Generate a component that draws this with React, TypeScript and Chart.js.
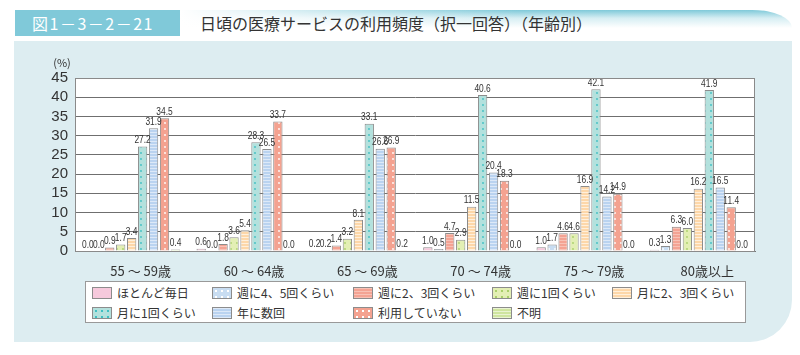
import React, { useEffect, useRef } from "react";
import { Chart, registerables } from "chart.js";

Chart.register(...registerables);

const categories = ["55 〜 59歳", "60 〜 64歳", "65 〜 69歳", "70 〜 74歳", "75 〜 79歳", "80歳以上"];
const seriesNames = [
  "ほとんど毎日",
  "週に4、5回くらい",
  "週に2、3回くらい",
  "週に1回くらい",
  "月に2、3回くらい",
  "月に1回くらい",
  "年に数回",
  "利用していない",
  "不明",
];
const almostDaily = [0.0, 0.6, 0.2, 1.0, 1.0, 0.3];
const week45 = [0.0, 0.0, 0.2, 0.5, 1.7, 1.3];
const week23 = [0.9, 1.8, 1.4, 4.7, 4.6, 6.3];
const week1 = [1.7, 3.6, 3.2, 2.9, 4.6, 6.0];
const month23 = [3.4, 5.4, 8.1, 11.5, 16.9, 16.2];
const month1 = [27.2, 28.3, 33.1, 40.6, 42.1, 41.9];
const fewPerYear = [31.9, 26.5, 26.6, 20.4, 14.2, 16.5];
const notUsing = [34.5, 33.7, 26.9, 18.3, 14.9, 11.4];
const unknown = [0.4, 0.0, 0.2, 0.0, 0.0, 0.0];
const yTicks = [0, 5, 10, 15, 20, 25, 30, 35, 40, 45];

const seriesValues = [almostDaily, week45, week23, week1, month23, month1, fewPerYear, notUsing, unknown];

type Style = { bg: string; fg: string; kind: "plain" | "dots" | "stripes" };
const styles: Style[] = [
  { bg: "#f6c9dc", fg: "#f6c9dc", kind: "plain" },
  { bg: "#c8ddf2", fg: "#ffffff", kind: "dots" },
  { bg: "#f4a393", fg: "#f8c2b6", kind: "stripes" },
  { bg: "#e3efb4", fg: "#a9cf6a", kind: "dots" },
  { bg: "#fdd7a9", fg: "#fff0dc", kind: "stripes" },
  { bg: "#b3e1dd", fg: "#3fbfc2", kind: "dots" },
  { bg: "#bad3f0", fg: "#dde9f8", kind: "stripes" },
  { bg: "#f4a290", fg: "#ffffff", kind: "dots" },
  { bg: "#cfe59f", fg: "#eaf4d2", kind: "stripes" },
];

function makePattern(s: Style): CanvasPattern | string {
  if (s.kind === "plain") return s.bg;
  const c = document.createElement("canvas");
  const ctx = c.getContext("2d")!;
  if (s.kind === "dots") {
    c.width = 6;
    c.height = 6;
    ctx.fillStyle = s.bg;
    ctx.fillRect(0, 0, 6, 6);
    ctx.fillStyle = s.fg;
    ctx.beginPath();
    ctx.arc(3, 3, 0.9, 0, Math.PI * 2);
    ctx.fill();
  } else {
    c.width = 4;
    c.height = 3;
    ctx.fillStyle = s.bg;
    ctx.fillRect(0, 0, 4, 3);
    ctx.fillStyle = s.fg;
    ctx.fillRect(0, 0, 4, 1);
  }
  return ctx.createPattern(c, "repeat")!;
}

function swatchCss(s: Style): React.CSSProperties {
  if (s.kind === "plain") return { background: s.bg };
  if (s.kind === "dots")
    return {
      backgroundColor: s.bg,
      backgroundImage: `radial-gradient(circle, ${s.fg} 0.9px, transparent 1.2px)`,
      backgroundSize: "6px 6px",
    };
  return {
    backgroundColor: s.bg,
    backgroundImage: `linear-gradient(to bottom, ${s.fg} 0, ${s.fg} 1px, transparent 1px)`,
    backgroundSize: "4px 3px",
  };
}

const CJK = '"Noto Sans CJK JP", "Noto Sans", sans-serif';

export default function App() {
  const ref = useRef<HTMLCanvasElement>(null);

  useEffect(() => {
    if (!ref.current) return;
    const plotBg = {
      id: "plotBg",
      beforeDraw(chart: any) {
        const { ctx, chartArea: a } = chart;
        ctx.save();
        ctx.fillStyle = "#ffffff";
        ctx.fillRect(a.left, a.top, a.right - a.left, a.bottom - a.top);
        ctx.restore();
      },
      afterDraw(chart: any) {
        const { ctx, chartArea: a } = chart;
        ctx.save();
        ctx.strokeStyle = "#8a8a8a";
        ctx.lineWidth = 1;
        ctx.strokeRect(a.left + 0.5, a.top + 0.5, a.right - a.left - 1, a.bottom - a.top);
        ctx.fillStyle = "#333";
        ctx.font = "11px " + CJK;
        ctx.textAlign = "center";
        ctx.textBaseline = "middle";
        ctx.fillText("(%)", 62, 63);
        ctx.restore();
      },
    };
    const labels = {
      id: "valueLabels",
      afterDatasetsDraw(chart: any) {
        const { ctx } = chart;
        chart.data.datasets.forEach((ds: any, i: number) => {
          const meta = chart.getDatasetMeta(i);
          meta.data.forEach((el: any, j: number) => {
            const v = ds.data[j] as number;
            ctx.save();
            ctx.translate(el.x, el.y - 1);
            ctx.scale(0.8, 1);
            ctx.fillStyle = "#333";
            ctx.font = '10.5px "Liberation Sans", Arial, sans-serif';
            ctx.textAlign = "center";
            ctx.textBaseline = "bottom";
            ctx.fillText(v.toFixed(1), 0, 0);
            ctx.restore();
          });
        });
      },
    };
    const chart = new Chart(ref.current, {
      type: "bar",
      data: {
        labels: categories,
        datasets: seriesNames.map((name, i) => ({
          label: name,
          data: seriesValues[i],
          backgroundColor: makePattern(styles[i]) as any,
          borderColor: "#8c8c8c",
          borderWidth: 1,
          categoryPercentage: 0.87,
          barPercentage: 0.85,
        })),
      },
      options: {
        responsive: false,
        animation: false,
        events: [],
        layout: { padding: { left: 0, right: 45, top: 78, bottom: 74 } },
        plugins: { legend: { display: false }, tooltip: { enabled: false }, title: { display: false } },
        scales: {
          x: {
            grid: { display: false },
            border: { display: true, color: "#777" },
            ticks: {
              color: "#333",
              font: { family: CJK, size: 13 },
              labelOffset: 9,
              padding: 4,
              maxRotation: 0,
            },
            afterFit(scale: any) {
              scale.height = 30;
            },
          },
          y: {
            min: yTicks[0],
            max: yTicks[yTicks.length - 1],
            grid: { color: "#6f6f6f", lineWidth: 1, drawTicks: false },
            border: { display: true, color: "#777" },
            ticks: {
              stepSize: yTicks[1] - yTicks[0],
              autoSkip: false,
              color: "#333",
              font: { family: '"Liberation Sans", Arial, sans-serif', size: 15 },
              padding: 7,
            },
            afterFit(scale: any) {
              scale.width = 75;
            },
          },
        },
      },
      plugins: [plotBg, labels],
    });
    return () => chart.destroy();
  }, []);

  const legendCols = [92, 212, 353, 492, 612];

  return (
    <div style={{ position: "fixed", left: 0, top: 0, width: 800, height: 355, background: "#fff", overflow: "hidden", fontFamily: CJK }}>
      <div
        style={{
          position: "absolute",
          left: 180,
          top: 10,
          width: 612,
          height: 18,
          borderTopRightRadius: "40px 18px",
          background:
            "linear-gradient(to right, #ffffff 0%, rgba(255,255,255,0) 55%), linear-gradient(to bottom, #7fc9d9 0%, #d6eef3 45%, #ffffff 100%)",
        }}
      />
      <div
        style={{
          position: "absolute",
          left: 15,
          top: 10,
          width: 165,
          height: 26,
          background: "#80c9d9",
          color: "#fff",
          fontSize: 16,
          lineHeight: "26px",
          paddingLeft: 17,
          boxSizing: "border-box",
          letterSpacing: 1.5,
          whiteSpace: "nowrap",
        }}
      >
        図1－3－2－21
      </div>
      <div
        style={{
          position: "absolute",
          left: 200,
          top: 10,
          height: 26,
          lineHeight: "26px",
          fontSize: 16,
          color: "#333",
          whiteSpace: "nowrap",
        }}
      >
        日頃の医療サービスの利用頻度（択一回答）（年齢別）
      </div>
      <div
        style={{
          position: "absolute",
          left: 14,
          top: 41,
          width: 778,
          height: 301,
          background: "#ddedf1",
          borderBottomRightRadius: 42,
        }}
      />
      <canvas ref={ref} width={800} height={355} style={{ position: "absolute", left: 0, top: 0, width: 800, height: 355 }} />
      <div
        style={{
          position: "absolute",
          left: 85,
          top: 281,
          width: 661,
          height: 42,
          background: "#fff",
          border: "1px solid #999",
          boxSizing: "border-box",
        }}
      />
      {seriesNames.map((name, i) => {
        const row = i < 5 ? 0 : 1;
        const col = i < 5 ? i : i - 5;
        const x = legendCols[col];
        const y = row === 0 ? 293 : 313;
        return (
          <React.Fragment key={name}>
            <div
              style={{
                position: "absolute",
                left: x,
                top: y - 6,
                width: 20,
                height: 12,
                border: "1px solid #8c8c8c",
                boxSizing: "border-box",
                ...swatchCss(styles[i]),
              }}
            />
            <div
              style={{
                position: "absolute",
                left: x + 25,
                top: y - 9,
                height: 18,
                lineHeight: "18px",
                fontSize: 12,
                color: "#333",
                whiteSpace: "nowrap",
              }}
            >
              {name}
            </div>
          </React.Fragment>
        );
      })}
    </div>
  );
}
